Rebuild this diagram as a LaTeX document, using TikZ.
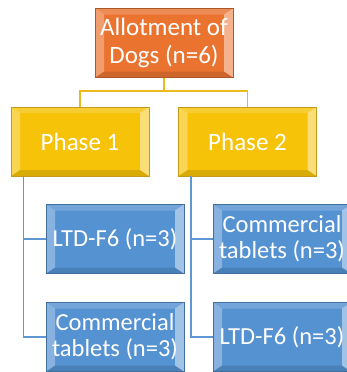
\documentclass[tikz,border=0pt]{standalone}
\usepackage{fontspec}
\setmainfont{Carlito}
\usetikzlibrary{calc}
\definecolor{orgfill}{HTML}{EB7330}
\definecolor{orgline}{HTML}{A9582A}
\definecolor{gldfill}{HTML}{F7C308}
\definecolor{gldline}{HTML}{C49A1A}
\definecolor{blufill}{HTML}{5592D2}
\definecolor{bluline}{HTML}{41709E}
\definecolor{gldconn}{HTML}{EDBA1E}
\definecolor{bluconn}{HTML}{5F97D4}
\tikzset{
  bevel/.style={path picture={
    \coordinate (NW) at (path picture bounding box.north west);
    \coordinate (NE) at (path picture bounding box.north east);
    \coordinate (SW) at (path picture bounding box.south west);
    \coordinate (SE) at (path picture bounding box.south east);
    \fill[white,opacity=0.30] (NW) -- ($(NW)+(9,6)$) -- ($(SW)+(9,-6)$) -- (SW) -- cycle;
    \fill[white,opacity=0.45] (NE) -- ($(NE)+(-9,6)$) -- ($(SE)+(-9,-6)$) -- (SE) -- cycle;
    \fill[white,opacity=0.18] (NW) -- ($(NW)+(9,6)$) -- ($(NE)+(-9,6)$) -- (NE) -- cycle;
    \fill[black,opacity=0.12] (SW) -- ($(SW)+(9,-6)$) -- ($(SE)+(-9,-6)$) -- (SE) -- cycle;
  }},
  boxbase/.style={bevel, rectangle, minimum width=138, minimum height=69, inner sep=0pt,
    text=white, align=center, font=\fontsize{25}{28}\selectfont, line width=0.8pt},
  orgbox/.style={boxbase, fill=orgfill, draw=orgline},
  gldbox/.style={boxbase, fill=gldfill, draw=gldline},
  blubox/.style={boxbase, fill=blufill, draw=bluline, font=\fontsize{24.5}{26}\selectfont},
  gconn/.style={draw=gldconn, line width=1.7pt},
  bconn/.style={draw=bluconn, line width=1.7pt},
}
\begin{document}
\begin{tikzpicture}[x=1pt,y=-1pt]
\useasboundingbox (0,0) rectangle (347,372);
\clip (0,0) rectangle (347,372);
\node[orgbox] (top) at (164,43) {Allotment of\\Dogs (n=6)};
\node[gldbox] (p1) at (80,141.5) {Phase 1};
\node[gldbox] (p2) at (247.5,141.5) {Phase 2};
\node[blubox] (b1) at (115,239) {LTD-F6 (n=3)};
\node[blubox] (b2) at (115,337) {Commercial\\tablets (n=3)};
\node[blubox] (b3) at (282,239) {Commercial\\tablets (n=3)};
\node[blubox] (b4) at (282,337) {LTD-F6 (n=3)};
\coordinate (mid) at ($(top.south)+(0,13)$);
\draw[gconn] (top.south) -- (mid) -| (p1.north);
\draw[gconn] (mid) -| (p2.north);
\coordinate (v1) at ($(p1.south west)+(13,0)$);
\coordinate (v2) at ($(p2.south west)+(13,0)$);
\draw[bconn] (v1) |- (b1.west);
\draw[bconn] (v1) |- (b2.west);
\draw[bconn] (v2) |- (b3.west);
\draw[bconn] (v2) |- (b4.west);
\end{tikzpicture}
\end{document}
